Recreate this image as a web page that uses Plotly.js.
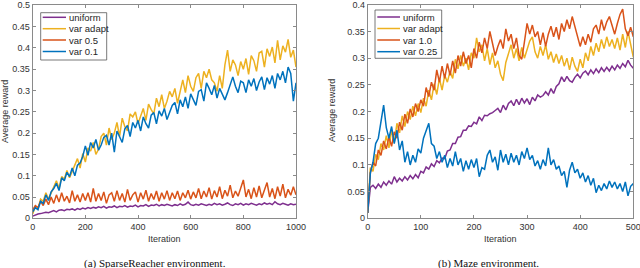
<!DOCTYPE html>
<html><head><meta charset="utf-8">
<script src="https://cdn.plot.ly/plotly-3.0.1.min.js"></script>
<style>html,body{margin:0;padding:0;background:#fff}#chart{width:640px;height:268px}</style>
</head><body><div id="chart"></div>
<script>
// ---------- Data: (a) SparseReacher ----------
const itersA = [0,10,20,30,40,50,60,70,80,90,100,110,120,130,140,150,160,170,180,190,200,210,220,230,240,250,260,270,280,290,300,310,320,330,340,350,360,370,380,390,400,410,420,430,440,450,460,470,480,490,500,510,520,530,540,550,560,570,580,590,600,610,620,630,640,650,660,670,680,690,700,710,720,730,740,750,760,770,780,790,800,810,820,830,840,850,860,870,880,890,900,910,920,930,940,950,960,970,980,990,1000];
const namesA = ["uniform","var adapt","var 0.5","var 0.1"];
const uniformA = [0.005,0.008,0.010,0.011,0.012,0.014,0.013,0.016,0.018,0.015,0.019,0.020,0.018,0.021,0.020,0.022,0.019,0.023,0.021,0.024,0.022,0.025,0.023,0.026,0.024,0.027,0.025,0.028,0.024,0.027,0.026,0.029,0.025,0.028,0.027,0.030,0.026,0.029,0.028,0.031,0.027,0.030,0.029,0.032,0.028,0.031,0.030,0.033,0.029,0.032,0.030,0.033,0.031,0.029,0.032,0.030,0.034,0.031,0.033,0.038,0.032,0.030,0.033,0.031,0.034,0.032,0.030,0.033,0.031,0.035,0.032,0.034,0.031,0.033,0.036,0.032,0.030,0.034,0.032,0.035,0.031,0.034,0.032,0.035,0.033,0.031,0.034,0.032,0.036,0.033,0.035,0.032,0.039,0.034,0.032,0.035,0.033,0.031,0.034,0.032,0.033];
const varAdaptA = [0.010,0.028,0.022,0.045,0.040,0.060,0.045,0.058,0.075,0.088,0.070,0.098,0.092,0.112,0.095,0.110,0.128,0.140,0.118,0.152,0.132,0.165,0.158,0.178,0.150,0.162,0.192,0.200,0.172,0.212,0.185,0.200,0.225,0.192,0.235,0.215,0.205,0.245,0.238,0.250,0.222,0.242,0.258,0.230,0.268,0.255,0.245,0.282,0.262,0.290,0.258,0.275,0.298,0.285,0.305,0.270,0.300,0.325,0.295,0.335,0.310,0.298,0.330,0.340,0.305,0.345,0.330,0.350,0.325,0.318,0.298,0.335,0.305,0.360,0.395,0.345,0.372,0.360,0.335,0.368,0.350,0.375,0.338,0.382,0.370,0.345,0.388,0.392,0.355,0.398,0.380,0.402,0.365,0.418,0.372,0.405,0.390,0.420,0.378,0.395,0.355];
const var05A = [0.020,0.030,0.025,0.040,0.030,0.045,0.032,0.050,0.035,0.055,0.038,0.060,0.040,0.052,0.036,0.065,0.040,0.055,0.038,0.058,0.042,0.060,0.038,0.070,0.040,0.058,0.042,0.062,0.035,0.055,0.060,0.040,0.065,0.042,0.058,0.038,0.068,0.042,0.055,0.062,0.038,0.060,0.045,0.066,0.040,0.058,0.044,0.064,0.040,0.060,0.045,0.065,0.042,0.060,0.046,0.064,0.042,0.060,0.048,0.066,0.045,0.062,0.048,0.070,0.046,0.064,0.050,0.072,0.045,0.065,0.050,0.074,0.046,0.066,0.052,0.078,0.048,0.064,0.052,0.070,0.090,0.050,0.068,0.046,0.072,0.050,0.076,0.048,0.064,0.084,0.050,0.070,0.046,0.074,0.052,0.080,0.048,0.068,0.054,0.074,0.055];
const var01A = [0.015,0.025,0.020,0.040,0.035,0.055,0.042,0.062,0.070,0.082,0.065,0.095,0.088,0.108,0.098,0.118,0.100,0.125,0.130,0.145,0.170,0.148,0.178,0.165,0.185,0.160,0.172,0.190,0.195,0.172,0.200,0.155,0.205,0.190,0.178,0.210,0.218,0.192,0.225,0.212,0.230,0.205,0.238,0.222,0.212,0.242,0.248,0.222,0.252,0.240,0.258,0.232,0.250,0.265,0.272,0.245,0.278,0.262,0.285,0.258,0.292,0.280,0.265,0.298,0.302,0.275,0.318,0.305,0.290,0.312,0.282,0.305,0.292,0.278,0.295,0.312,0.332,0.310,0.295,0.322,0.318,0.295,0.325,0.310,0.328,0.300,0.320,0.332,0.302,0.330,0.315,0.335,0.305,0.340,0.325,0.345,0.318,0.355,0.340,0.275,0.318];

// ---------- Data: (b) Maze ----------
const itersB = [0,5,10,15,20,25,30,35,40,45,50,55,60,65,70,75,80,85,90,95,100,105,110,115,120,125,130,135,140,145,150,155,160,165,170,175,180,185,190,195,200,205,210,215,220,225,230,235,240,245,250,255,260,265,270,275,280,285,290,295,300,305,310,315,320,325,330,335,340,345,350,355,360,365,370,375,380,385,390,395,400,405,410,415,420,425,430,435,440,445,450,455,460,465,470,475,480,485,490,495,500];
const namesB = ["uniform","var adapt","var 1.0","var 0.25"];
const uniformB = [0.010,0.058,0.062,0.056,0.064,0.058,0.068,0.062,0.070,0.064,0.078,0.068,0.075,0.070,0.078,0.072,0.080,0.074,0.082,0.076,0.088,0.085,0.096,0.092,0.102,0.097,0.108,0.104,0.113,0.112,0.126,0.128,0.140,0.140,0.152,0.153,0.165,0.165,0.173,0.172,0.180,0.177,0.190,0.183,0.193,0.192,0.196,0.198,0.202,0.206,0.198,0.212,0.203,0.215,0.220,0.211,0.223,0.213,0.225,0.216,0.224,0.213,0.227,0.220,0.231,0.227,0.230,0.237,0.231,0.243,0.234,0.247,0.252,0.265,0.256,0.266,0.258,0.255,0.264,0.270,0.263,0.272,0.276,0.269,0.278,0.271,0.280,0.273,0.282,0.275,0.283,0.276,0.285,0.278,0.287,0.281,0.290,0.284,0.296,0.287,0.281];
const varAdaptB = [0.010,0.095,0.088,0.120,0.110,0.140,0.128,0.155,0.132,0.165,0.142,0.178,0.160,0.192,0.172,0.200,0.185,0.210,0.192,0.215,0.198,0.225,0.210,0.240,0.222,0.252,0.232,0.262,0.240,0.268,0.255,0.275,0.262,0.298,0.280,0.305,0.285,0.300,0.278,0.310,0.300,0.338,0.312,0.325,0.295,0.318,0.288,0.310,0.282,0.295,0.270,0.258,0.292,0.310,0.325,0.300,0.318,0.295,0.320,0.300,0.318,0.332,0.340,0.312,0.300,0.322,0.305,0.325,0.298,0.312,0.292,0.308,0.290,0.305,0.285,0.300,0.278,0.302,0.285,0.275,0.298,0.282,0.310,0.295,0.322,0.305,0.328,0.312,0.335,0.318,0.340,0.322,0.335,0.318,0.338,0.315,0.345,0.320,0.350,0.325,0.302];
const var10B = [0.010,0.085,0.105,0.098,0.128,0.118,0.145,0.130,0.152,0.135,0.162,0.150,0.180,0.165,0.195,0.178,0.205,0.190,0.215,0.200,0.222,0.210,0.245,0.228,0.255,0.240,0.278,0.255,0.285,0.262,0.290,0.268,0.295,0.272,0.305,0.285,0.312,0.290,0.305,0.282,0.318,0.300,0.330,0.310,0.338,0.318,0.350,0.325,0.305,0.322,0.335,0.318,0.355,0.332,0.345,0.318,0.338,0.305,0.298,0.330,0.365,0.345,0.362,0.340,0.350,0.325,0.348,0.322,0.345,0.360,0.340,0.358,0.335,0.365,0.350,0.372,0.355,0.378,0.360,0.340,0.322,0.340,0.325,0.345,0.330,0.355,0.362,0.345,0.372,0.352,0.368,0.378,0.360,0.345,0.365,0.382,0.392,0.355,0.342,0.358,0.340];
const var025B = [0.010,0.085,0.105,0.140,0.150,0.185,0.212,0.170,0.150,0.172,0.140,0.165,0.128,0.145,0.105,0.125,0.100,0.118,0.105,0.130,0.122,0.150,0.165,0.178,0.140,0.135,0.112,0.125,0.105,0.118,0.095,0.112,0.098,0.125,0.100,0.112,0.088,0.108,0.092,0.110,0.095,0.112,0.078,0.095,0.092,0.118,0.128,0.105,0.115,0.090,0.128,0.105,0.120,0.100,0.122,0.105,0.118,0.100,0.125,0.112,0.132,0.110,0.118,0.098,0.108,0.092,0.110,0.098,0.132,0.100,0.110,0.092,0.098,0.080,0.088,0.058,0.090,0.105,0.085,0.092,0.075,0.085,0.068,0.080,0.062,0.075,0.048,0.062,0.052,0.065,0.055,0.070,0.058,0.068,0.055,0.065,0.050,0.068,0.042,0.060,0.065];

const colorsA = ["#7E2F8E","#EDB120","#D95319","#0072BD"];
const colorsB = ["#7E2F8E","#EDB120","#D95319","#0072BD"];
const ticksAx = [0,200,400,600,800,1000];
const ticksBx = [0,100,200,300,400,500];
const ticksY = [0,0.05,0.1,0.15,0.2,0.25,0.3,0.35,0.4,0.45,0.5];

const W = 640, H = 268;
const px = x => x / W;
const py = y => 1 - y / H;

const seriesA = [uniformA, varAdaptA, var05A, var01A];
const seriesB = [uniformB, varAdaptB, var10B, var025B];
const traces = [];
seriesA.forEach((s, i) => traces.push({x: itersA, y: s, xaxis: 'x', yaxis: 'y', type: 'scatter', mode: 'lines',
  name: namesA[i], line: {color: colorsA[i], width: 1.5}, showlegend: false, hoverinfo: 'skip'}));
seriesB.forEach((s, i) => traces.push({x: itersB, y: s, xaxis: 'x2', yaxis: 'y2', type: 'scatter', mode: 'lines',
  name: namesB[i], line: {color: colorsB[i], width: 1.5}, showlegend: false, hoverinfo: 'skip'}));

const tickFont = {family: 'Liberation Sans, Arial, sans-serif', size: 9, color: '#333'};
function axis(extra) {
  return Object.assign({showgrid: false, zeroline: false, showline: true, linecolor: '#8a8a8a', linewidth: 1,
    mirror: 'ticks', ticks: 'inside', ticklen: 3, tickcolor: '#8a8a8a', tickwidth: 1, tickfont: tickFont,
    ticklabeloverflow: 'allow', fixedrange: true}, extra);
}

const shapes = [], annotations = [];
function legend(names, colors, box, lineX0, lineX1, textX, rows) {
  shapes.push({type: 'rect', xref: 'paper', yref: 'paper', x0: px(box[0]), x1: px(box[1]), y0: py(box[3]), y1: py(box[2]),
    line: {color: '#555', width: 0.8}, fillcolor: 'white', layer: 'above'});
  names.forEach((n, i) => {
    shapes.push({type: 'line', xref: 'paper', yref: 'paper', x0: px(lineX0), x1: px(lineX1), y0: py(rows[i]), y1: py(rows[i]),
      line: {color: colors[i], width: 1.5}, layer: 'above'});
    annotations.push({xref: 'paper', yref: 'paper', x: px(textX), y: py(rows[i]), xanchor: 'left', yanchor: 'middle',
      text: n, showarrow: false, font: {family: 'Liberation Sans, Arial, sans-serif', size: 9.5, color: '#262626'}});
  });
}
legend(namesA, colorsA, [40.7, 106.7, 12.7, 60], 42.7, 66, 66.5, [17.3, 28.7, 40, 51.5]);
legend(namesB, colorsB, [375, 441.7, 10, 58.3], 377.3, 400, 400.5, [17, 28.5, 40, 51.7]);

const labFont = {family: 'Liberation Sans, Arial, sans-serif', size: 9, color: '#333'};
annotations.push({xref: 'paper', yref: 'paper', x: px(164), y: py(238.5), text: 'Iteration', showarrow: false, font: labFont, xanchor: 'center', yanchor: 'middle'});
annotations.push({xref: 'paper', yref: 'paper', x: px(500.5), y: py(238.5), text: 'Iteration', showarrow: false, font: labFont, xanchor: 'center', yanchor: 'middle'});
annotations.push({xref: 'paper', yref: 'paper', x: px(5), y: py(112), text: 'Average reward', textangle: -90, showarrow: false, font: labFont, xanchor: 'center', yanchor: 'middle'});
annotations.push({xref: 'paper', yref: 'paper', x: px(332), y: py(111), text: 'Average reward', textangle: -90, showarrow: false, font: labFont, xanchor: 'center', yanchor: 'middle'});
const capFont = {family: 'Liberation Serif, Times New Roman, serif', size: 11, color: '#111'};
annotations.push({xref: 'paper', yref: 'paper', x: px(154.5), y: py(263), text: '(a) SparseReacher environment.', showarrow: false, font: capFont, xanchor: 'center', yanchor: 'middle'});
annotations.push({xref: 'paper', yref: 'paper', x: px(488.5), y: py(263), text: '(b) Maze environment.', showarrow: false, font: capFont, xanchor: 'center', yanchor: 'middle'});

const layout = {
  width: W, height: H, margin: {l: 0, r: 0, t: 0, b: 0}, paper_bgcolor: 'white', plot_bgcolor: 'white', showlegend: false,
  xaxis: axis({domain: [px(32.7), px(296)], range: [0, 1000], tickvals: ticksAx, anchor: 'y'}),
  yaxis: axis({domain: [py(218.3), py(5.3)], range: [0, 0.5], tickvals: ticksY, anchor: 'x'}),
  xaxis2: axis({domain: [px(367.7), px(633.3)], range: [0, 500], tickvals: ticksBx, anchor: 'y2'}),
  yaxis2: axis({domain: [py(218.3), py(4.8)], range: [0, 0.4], tickvals: ticksY.slice(0, 9), anchor: 'x2'}),
  shapes: shapes, annotations: annotations
};
Plotly.newPlot('chart', traces, layout, {staticPlot: true, displayModeBar: false});
</script></body></html>
